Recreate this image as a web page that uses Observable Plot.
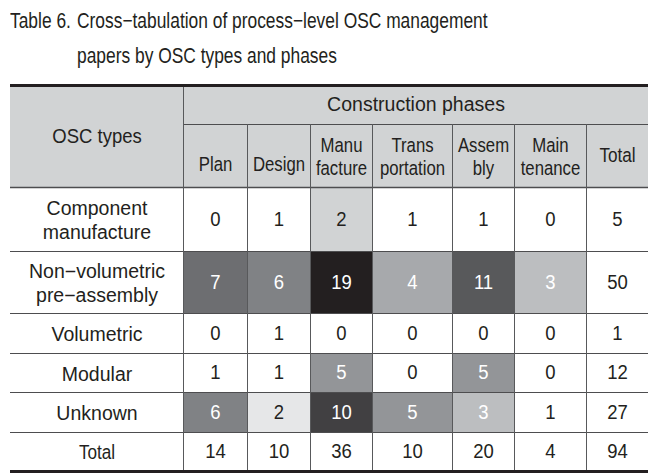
<!DOCTYPE html>
<html><head><meta charset="utf-8">
<script src="https://cdn.jsdelivr.net/npm/d3@7"></script>
<script src="https://cdn.jsdelivr.net/npm/@observablehq/plot@0.6"></script>
<style>
body{margin:0;background:#fff;}
#title{position:relative;height:80px;font-family:"Liberation Sans",Arial,sans-serif;font-size:22px;line-height:35px;color:#231f20;}
#title span{position:absolute;white-space:nowrap;transform:scaleX(0.79);transform-origin:0 50%;}
</style></head><body>
<div id="title"><span style="left:10px;top:2.5px">Table 6.</span><span style="left:77px;top:2.5px">Cross−tabulation of process−level OSC management</span><span style="left:77px;top:37.5px">papers by OSC types and phases</span></div>
<div id="chart"></div>
<script>
// ---- data ----
const stubLabel = "OSC types";
const groupLabel = "Construction phases";
const totalLabel = "Total";
const types = ["Component\nmanufacture", "Non−volumetric\npre−assembly", "Volumetric", "Modular", "Unknown"];
const phases = ["Plan", "Design", "Manu\nfacture", "Trans\nportation", "Assem\nbly", "Main\ntenance"];
const counts = [
  [0, 1, 2, 1, 1, 0],
  [7, 6, 19, 4, 11, 3],
  [0, 1, 0, 0, 0, 0],
  [1, 1, 5, 0, 5, 0],
  [6, 2, 10, 5, 3, 1]
];
// highlight level of each cell (tint in tenths of black)
const shades = [
  [0, 0, 2, 0, 0, 0],
  [7, 6, 10, 4, 8, 3],
  [0, 0, 0, 0, 0, 0],
  [0, 0, 5, 0, 5, 0],
  [6, 1, 9, 5, 3, 0]
];
const rowTotals = [5, 50, 1, 12, 27];
const colTotals = [14, 10, 36, 10, 20, 4];
const grandTotal = 94;

// ---- layout ----
const colWidths = [173, 64, 63, 62, 80, 62, 72, 62];
const rowHeights = [39, 63, 64, 62, 40, 39, 40, 39];
const tints = ["#ffffff", "#e6e7e8", "#d1d3d4", "#bcbec0", "#a7a9ac", "#939598", "#808285", "#6d6e71", "#58595b", "#414042", "#231f20"];
const ink = "#231f20";
const xE = [0, ...d3.cumsum(colWidths)];
const yE = [0, ...d3.cumsum(rowHeights)];
const W = xE[xE.length - 1], H = yE[yE.length - 1];
const cx = c => (xE[c] + xE[c + 1]) / 2;
const cy = r => (yE[r] + yE[r + 1]) / 2;

const cells = [];
counts.forEach((row, i) => {
  row.forEach((v, j) => cells.push({r: i + 2, c: j + 1, v, shade: shades[i][j]}));
  cells.push({r: i + 2, c: 7, v: rowTotals[i], shade: 0});
});
colTotals.forEach((v, j) => cells.push({r: 7, c: j + 1, v, shade: 0}));
cells.push({r: 7, c: 7, v: grandTotal, shade: 0});

const phaseCells = phases.map((p, j) => ({r: 1, c: j + 1, label: p}));
const typeCells = types.map((t, i) => ({r: i + 2, c: 0, label: t}));
typeCells.push({r: 7, c: 0, label: totalLabel});
const headCells = [
  {r0: 0, r1: 2, c0: 0, c1: 1, label: stubLabel},
  {r0: 0, r1: 1, c0: 1, c1: 8, label: groupLabel},
  {r0: 1, r1: 2, c0: 7, c1: 8, label: totalLabel}
];

const hThin = [
  {y: yE[1], x1: xE[1], x2: W, w: 1},
  ...[2, 3, 4, 5, 6, 7].map(k => ({y: yE[k], x1: 0, x2: W, w: k === 2 ? 1.4 : 1}))
];
const hThick = [{y: 0, x1: 0, x2: W}, {y: H, x1: 0, x2: W}];
const vLines = [{x: xE[1], y1: 0, y2: H}, ...[2, 3, 4, 5, 6, 7].map(k => ({x: xE[k], y1: yE[1], y2: H}))];

const chart = Plot.plot({
  width: 668, height: 393, margin: 0,
  x: {domain: [0, W], range: [10, 648], axis: null},
  y: {domain: [0, H], range: [5, 391], axis: null},
  color: {type: "ordinal", domain: d3.range(11), range: tints},
  style: {fontFamily: '"Liberation Sans",Arial,sans-serif', fontSize: "19.5px", background: "white"},
  marks: [
    Plot.rect([{}], {x1: () => 0, x2: () => W, y1: () => 0, y2: () => yE[2], fill: "#d1d3d4"}),
    Plot.rect(cells, {x1: d => xE[d.c], x2: d => xE[d.c + 1], y1: d => yE[d.r], y2: d => yE[d.r + 1], fill: "shade"}),
    Plot.ruleY(hThin, {y: "y", x1: "x1", x2: "x2", stroke: "#4d4d4f", strokeWidth: d => d.w}),
    Plot.ruleX(vLines, {x: "x", y1: "y1", y2: "y2", stroke: "#58595b", strokeWidth: 1}),
    Plot.ruleY(hThick, {y: "y", x1: "x1", x2: "x2", stroke: ink, strokeWidth: 3}),
    Plot.text(headCells, {x: d => (xE[d.c0] + xE[d.c1]) / 2, y: d => (yE[d.r0] + yE[d.r1]) / 2, text: "label", fill: ink}),
    Plot.text(phaseCells.filter(d => !d.label.includes("\n")), {x: d => cx(d.c), y: d => cy(d.r), text: "label", fill: ink, dy: 9}),
    Plot.text(phaseCells.filter(d => d.label.includes("\n")), {x: d => cx(d.c), y: d => cy(d.r), text: "label", fill: ink, lineHeight: 1.2}),
    Plot.text(typeCells, {x: d => cx(d.c), y: d => cy(d.r), text: "label", fill: ink, lineHeight: 1.2}),
    Plot.text(cells.filter(d => d.shade < 3), {x: d => cx(d.c), y: d => cy(d.r), text: "v", fill: ink}),
    Plot.text(cells.filter(d => d.shade >= 3), {x: d => cx(d.c), y: d => cy(d.r), text: "v", fill: "white"})
  ]
});
// condense glyphs horizontally (the source uses a narrower face for some cells)
const phaseText = new Set(phases.map(p => p.replace(/\n/g, "")));
chart.querySelectorAll("text").forEach(el => {
  const s = el.textContent.trim();
  let k = 1;
  if (/^\d+$/.test(s)) k = 0.95;
  else if (phaseText.has(s)) k = 0.86;
  else if (s === totalLabel) k = 0.88;
  else if (s === stubLabel) k = 0.95;
  if (k === 1) return;
  const t = el.getAttribute("transform");
  if (t) {
    el.setAttribute("transform", t + ` scale(${k},1)`);
  } else {
    const x = +el.getAttribute("x") || 0;
    el.setAttribute("transform", `translate(${x},0) scale(${k},1) translate(${-x},0)`);
  }
});
document.getElementById("chart").appendChild(chart);
</script>
</body></html>
